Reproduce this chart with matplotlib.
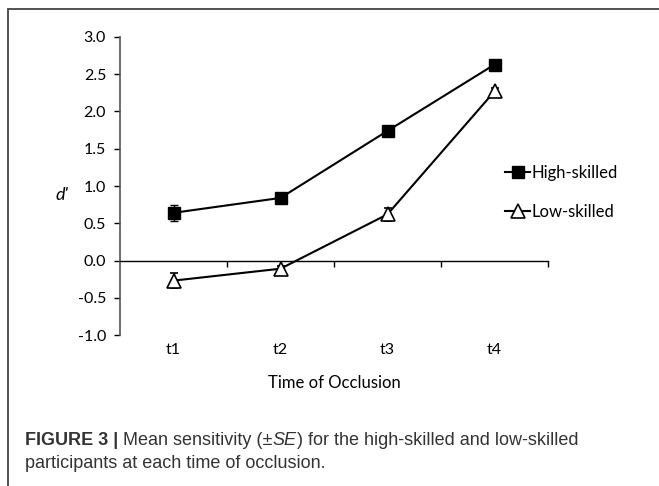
import matplotlib
matplotlib.use("Agg")
import matplotlib.pyplot as plt
from matplotlib.patches import Rectangle
from matplotlib.lines import Line2D

# data
times = ["t1", "t2", "t3", "t4"]
high_mean = [0.64, 0.84, 1.74, 2.63]
high_se = [0.11, 0.04, 0.06, 0.04]
low_mean = [-0.27, -0.11, 0.62, 2.27]
low_se = [0.10, 0.04, 0.09, 0.04]
yticks = [-1.0, -0.5, 0.0, 0.5, 1.0, 1.5, 2.0, 2.5, 3.0]

chart_font = "Lato"
cap_font = ["Liberation Sans Narrow", "Liberation Sans", "DejaVu Sans"]

fig = plt.figure(figsize=(6.59, 4.86), dpi=100)

# frame around the panel (right and bottom edges run off the image)
fig.patches.append(Rectangle((8 / 659, -0.1), 1.2, 1 - 9 / 486 + 0.1,
                             transform=fig.transFigure, fill=False,
                             edgecolor="#444444", linewidth=1.3))

ax = fig.add_axes([120 / 659, 1 - 335 / 486, 428 / 659, 298 / 486])
x = list(range(1, len(times) + 1))

high_style = dict(color="black", lw=1.5, marker="s", markersize=8.5,
                  markerfacecolor="black")
low_style = dict(color="black", lw=1.5, marker="^", markersize=10,
                 markerfacecolor="white", markeredgewidth=1.2)

ax.errorbar(x, high_mean, yerr=high_se, capsize=3, elinewidth=1, capthick=1,
            **high_style)
ax.errorbar(x, low_mean, yerr=low_se, capsize=3, elinewidth=1, capthick=1,
            **low_style)

ax.set_xlim(0.5, 4.5)
ax.set_ylim(-1.0, 3.0)
ax.set_yticks(yticks)
ax.set_yticklabels(["%.1f" % v for v in yticks], fontfamily=chart_font, fontsize=11.5)
ax.set_xticks([1.5, 2.5, 3.5, 4.5])
ax.set_xticklabels([])
ax.tick_params(axis="x", direction="out", length=4, width=1, pad=2)
ax.tick_params(axis="y", direction="out", length=4, width=1, pad=6)

ax.spines["top"].set_visible(False)
ax.spines["right"].set_visible(False)
ax.spines["bottom"].set_position(("data", 0))
ax.spines["left"].set_color("#555555")
ax.spines["left"].set_linewidth(1.2)
ax.spines["bottom"].set_linewidth(1)

# category labels below the plot area
for xi, t in zip(x, times):
    ax.text(xi, -1.2, t, ha="center", va="center", fontfamily=chart_font,
            fontsize=11.5, transform=ax.transData)
ax.text(0.5, -0.16, "Time of Occlusion", ha="center", va="center",
        fontfamily=chart_font, fontsize=12, transform=ax.transAxes)
ax.text(-0.135, 0.47, "d'", ha="center", va="center", style="italic",
        fontfamily=chart_font, fontsize=13, transform=ax.transAxes)

handles = [Line2D([], [], **high_style), Line2D([], [], **low_style)]
ax.legend(handles, ["High-skilled", "Low-skilled"], loc="center left",
          bbox_to_anchor=(0.9, 0.478), frameon=False,
          prop={"family": chart_font, "size": 12}, handlelength=1.5,
          handletextpad=0.05, labelspacing=1.4, numpoints=1,
          borderpad=0, borderaxespad=0)

# caption, written as runs of bold / regular / italic text
def caption_line(runs, x0, y0, size):
    fig.canvas.draw()
    r = fig.canvas.get_renderer()
    xpos = x0
    for s, weight, style in runs:
        t = fig.text(xpos / 659, 1 - y0 / 486, s, fontsize=size, family=cap_font,
                     fontweight=weight, style=style, color="#333333",
                     va="center", ha="left")
        bb = t.get_window_extent(renderer=r)
        xpos += bb.width

line1 = [("FIGURE 3 | ", "bold", "normal"),
         ("Mean sensitivity (\u00b1", "normal", "normal"),
         ("SE", "normal", "italic"),
         (") for the high-skilled and low-skilled", "normal", "normal")]
line2 = [("participants at each time of occlusion.", "normal", "normal")]
caption_line(line1, 25, 440, 13)
caption_line(line2, 25, 463, 13)

fig.savefig("out.png", dpi=100)
